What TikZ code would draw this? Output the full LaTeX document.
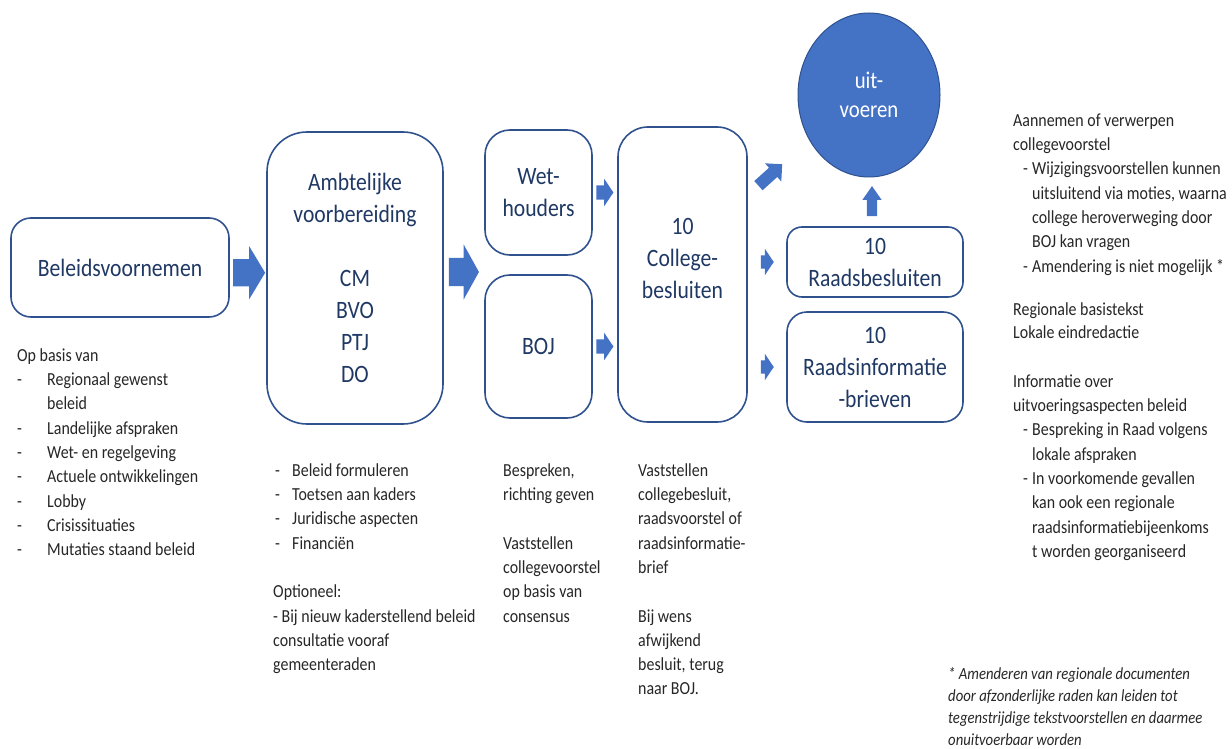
\documentclass[tikz,border=0pt]{standalone}
\usepackage{fontspec}
\setmainfont{Carlito}[FakeStretch=0.866]
\usetikzlibrary{calc,shapes.geometric,shapes.arrows}
\definecolor{boxline}{RGB}{47,82,143}
\definecolor{arrowblue}{RGB}{68,114,196}
\definecolor{boxtext}{RGB}{31,56,100}
\definecolor{bodytext}{RGB}{38,38,38}
\newcommand{\dashat}[2]{\hspace*{#1}\makebox[#2][l]{-}}
\tikzset{
	stepbox/.style={draw=boxline, line width=1.6pt, rounded corners=#1, text=boxtext, align=center, inner sep=0pt, font=\fontsize{25}{32}\selectfont},
	stepbox/.default=20pt,
	blockarrow/.style={single arrow, fill=arrowblue, draw=none, inner xsep=0pt},
	notes/.style={anchor=north west, align=left, inner sep=0pt, text=bodytext, font=\fontsize{18.4}{24.3}\selectfont}
}

\begin{document}
\begin{tikzpicture}[x=1pt, y=-1pt]
		%%%%% START %%%%%
		\useasboundingbox (0, 0) rectangle (1232, 749);
		
		\node[stepbox=20pt, minimum width=218, minimum height=99] (bel) at (120, 267.5) {Beleidsvoornemen};
		\node[stepbox=40pt, minimum width=176, minimum height=292] (amb) at (355, 278) {Ambtelijke\\voorbereiding\\[32pt]CM\\BVO\\PTJ\\DO};
		\node[stepbox=25pt, minimum width=107, minimum height=125] (weth) at (538.5, 192.5) {Wet-\\houders};
		\node[stepbox=25pt, minimum width=107, minimum height=143] (boj) at (538.5, 346.5) {BOJ};
		\node[stepbox=30pt, minimum width=129, minimum height=295] (coll) at (682.5, 274.5) {10\\College-\\besluiten\\\mbox{}};
		\node[stepbox=15pt, minimum width=176, minimum height=70] (rb) at (875, 262) {10\\Raadsbesluiten};
		\node[stepbox=20pt, minimum width=176, minimum height=110] (ri) at (875, 367) {10\\Raadsinformatie\\-brieven};
		\node[ellipse, fill=arrowblue, draw=boxline, line width=1pt, minimum width=142, minimum height=164, text=white, align=center, font=\fontsize{24}{29}\selectfont] (uit) at (869, 95) {uit-\\voeren};
		
		% block arrows
		\node[blockarrow, xshift=-3pt, minimum height=32, inner ysep=13.5, single arrow head extend=13, single arrow tip angle=118] (a1) at ($(bel.east)!0.5!(amb.west)$) {};
		\node[blockarrow, xshift=-4pt, minimum height=30, inner ysep=14, single arrow head extend=13.5, single arrow tip angle=122] (a2) at ($(amb.east)!0.5!(amb.east -| weth.west)+(0, -6)$) {};
		\node[blockarrow, xshift=-2.5pt, minimum height=17, inner ysep=7, single arrow head extend=6.5, single arrow tip angle=112] (a3) at ($(weth.east)!0.5!(weth.east -| coll.west)$) {};
		\node[blockarrow, xshift=-2.5pt, minimum height=17, inner ysep=7, single arrow head extend=6.5, single arrow tip angle=112] (a4) at ($(boj.east)!0.5!(boj.east -| coll.west)$) {};
		\node[blockarrow, xshift=-2pt, minimum height=13, inner ysep=6.5, single arrow head extend=6.5, single arrow tip angle=112] (a5) at ($(rb.west -| coll.east)!0.5!(rb.west)$) {};
		\node[blockarrow, xshift=-2pt, minimum height=13, inner ysep=6.5, single arrow head extend=6.5, single arrow tip angle=112] (a6) at ($(ri.west -| coll.east)!0.5!(ri.west)$) {};
		\node[blockarrow, minimum height=32, inner ysep=6, single arrow head extend=6, single arrow tip angle=90, rotate=42] (a7) at (768, 177) {};
		\node[blockarrow, yshift=-3pt, minimum height=30, inner ysep=5, single arrow head extend=4.5, single arrow tip angle=70, rotate=90] (a8) at ($(rb.north)!0.5!(uit.south)$) {};
		
		% texts
		\node[notes] (tbel) at (17, 344) {\strut Op basis van\\
			\dashat{0pt}{30pt}Regionaal gewenst\\ \hspace*{30pt}beleid\\
			\dashat{0pt}{30pt}Landelijke afspraken\\
			\dashat{0pt}{30pt}Wet- en regelgeving\\
			\dashat{0pt}{30pt}Actuele ontwikkelingen\\
			\dashat{0pt}{30pt}Lobby\\
			\dashat{0pt}{30pt}Crisissituaties\\
			\dashat{0pt}{30pt}Mutaties staand beleid};
		\node[notes] (tamb) at (273, 459) {\strut\dashat{2pt}{17pt}Beleid formuleren\\
			\dashat{2pt}{17pt}Toetsen aan kaders\\
			\dashat{2pt}{17pt}Juridische aspecten\\
			\dashat{2pt}{17pt}Financiën\\[24.3pt]
			Optioneel:\\
			- Bij nieuw kaderstellend beleid\\
			consultatie vooraf\\
			gemeenteraden};
		\node[notes] (tboj) at (503, 459) {\strut Bespreken,\\richting geven\\[24.3pt]
			Vaststellen\\collegevoorstel\\op basis van\\consensus};
		\node[notes] (tcoll) at (638, 459) {\strut Vaststellen\\collegebesluit,\\raadsvoorstel of\\raadsinformatie-\\brief\\[24.3pt]
			Bij wens\\afwijkend\\besluit, terug\\naar BOJ.};
		\node[notes] (trb) at (1013, 109) {\strut Aannemen of verwerpen\\
			collegevoorstel\\
			\dashat{10pt}{9pt}Wijzigingsvoorstellen kunnen\\
			\hspace*{19pt}uitsluitend via moties, waarna\\
			\hspace*{19pt}college heroverweging door\\
			\hspace*{19pt}BOJ kan vragen\\
			\dashat{10pt}{9pt}Amendering is niet mogelijk *};
		\node[notes, font=\fontsize{18.4}{23}\selectfont] (tbasis) at (1013, 299) {\strut Regionale basistekst\\Lokale eindredactie};
		\node[notes] (tri) at (1013, 370) {\strut Informatie over\\
			uitvoeringsaspecten beleid\\
			\dashat{10pt}{9pt}Bespreking in Raad volgens\\
			\hspace*{19pt}lokale afspraken\\
			\dashat{10pt}{9pt}In voorkomende gevallen\\
			\hspace*{19pt}kan ook een regionale\\
			\hspace*{19pt}raadsinformatiebijeenkoms\\
			\hspace*{19pt}t worden georganiseerd};
		\node[notes, font=\fontsize{17}{22}\selectfont\itshape] (tnoot) at (948, 664) {\strut * Amenderen van regionale documenten\\
			door afzonderlijke raden kan leiden tot\\
			tegenstrijdige tekstvoorstellen en daarmee\\
			onuitvoerbaar worden};
		%%%%% END %%%%%
\end{tikzpicture}
\end{document}
